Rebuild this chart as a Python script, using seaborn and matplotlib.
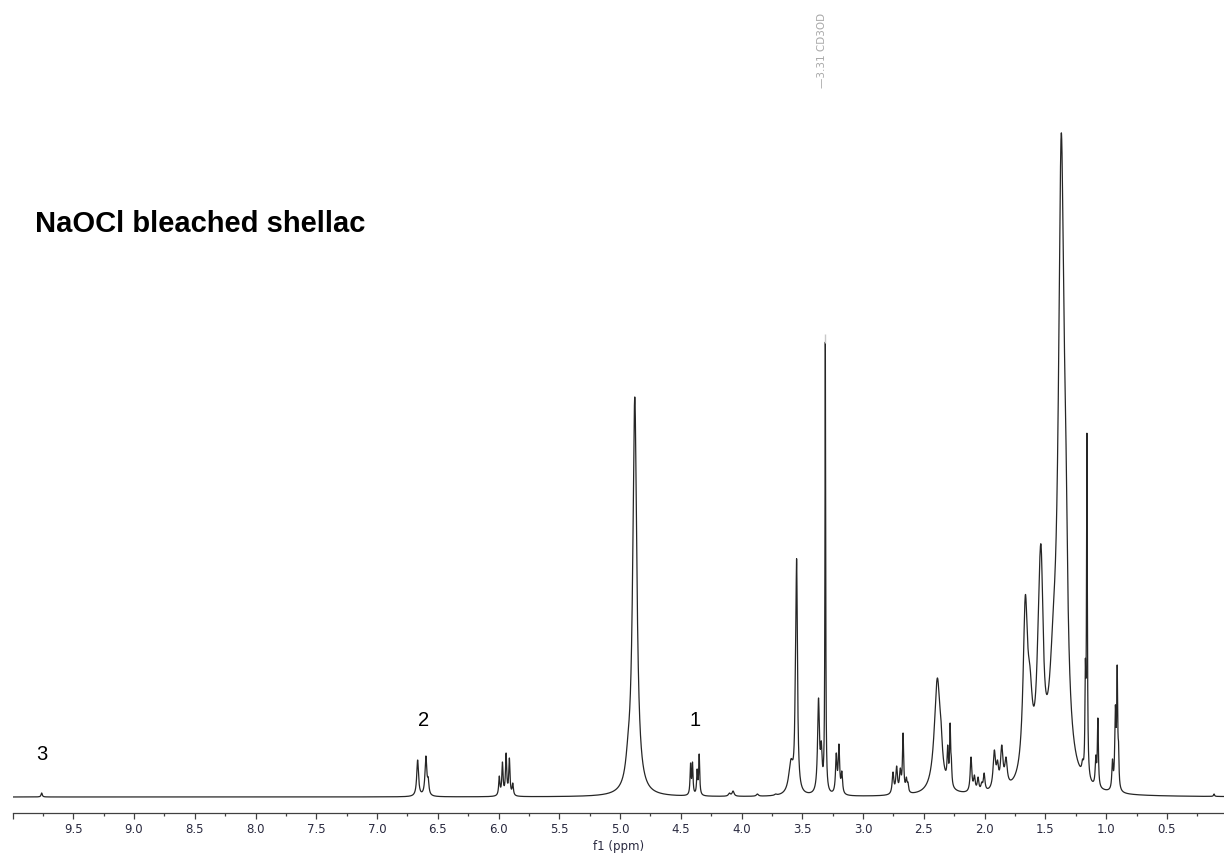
import numpy as np
import pandas as pd
import matplotlib
matplotlib.use("Agg")
import matplotlib.pyplot as plt
from matplotlib.ticker import FixedLocator, FixedFormatter
import seaborn as sns

# 1H NMR of NaOCl bleached shellac in CD3OD.
# Peak list: chemical shift (ppm), observed apex height (arbitrary units), half width (ppm)
peak_ppm = [9.76,
            6.666, 6.598, 6.579,
            5.994, 5.968, 5.938, 5.911, 5.883,
            4.934, 4.879,
            4.420, 4.404, 4.366, 4.349,
            4.10, 4.07, 3.87, 3.72,
            3.594, 3.557, 3.547,
            3.367, 3.344, 3.311,
            3.221, 3.199, 3.175,
            2.754, 2.724, 2.694, 2.671, 2.644, 2.631,
            2.389, 2.359,
            2.304, 2.284, 2.274,
            2.112, 2.084, 2.054, 2.024, 2.004,
            1.920, 1.894, 1.859, 1.824,
            1.665, 1.627, 1.550, 1.534, 1.434, 1.369, 1.333,
            1.194, 1.171, 1.158,
            1.085, 1.068,
            0.948, 0.924, 0.909, 0.898,
            0.112]
peak_height = [4,
               37, 41, 20,
               21, 35, 44, 39, 14,
               64, 400,
               34, 35, 28, 43,
               4, 6, 3, 3,
               38, 140, 238,
               99, 56, 455,
               44, 53, 26,
               25, 31, 29, 64, 20, 15,
               119, 77,
               52, 74, 40,
               40, 22, 20, 15, 24,
               47, 37, 52, 40,
               202, 131, 222, 249, 190, 664, 380,
               38, 138, 364,
               42, 79,
               38, 92, 132, 56,
               3]
peak_width = [0.006,
              0.009, 0.009, 0.007,
              0.006, 0.006, 0.006, 0.006, 0.006,
              0.024, 0.020,
              0.005, 0.005, 0.005, 0.005,
              0.010, 0.010, 0.010, 0.010,
              0.022, 0.006, 0.008,
              0.009, 0.008, 0.0035,
              0.007, 0.007, 0.007,
              0.008, 0.008, 0.008, 0.006, 0.007, 0.006,
              0.030, 0.012,
              0.006, 0.005, 0.005,
              0.008, 0.008, 0.008, 0.008, 0.008,
              0.012, 0.010, 0.012, 0.012,
              0.022, 0.025, 0.025, 0.020, 0.040, 0.028, 0.018,
              0.008, 0.004, 0.004,
              0.006, 0.005,
              0.006, 0.006, 0.005, 0.004,
              0.005]

solvent_ppm = 3.311
solvent_label = "3.31 CD3OD"
peak_tags = ["3", "2", "1"]
peak_tag_ppm = [9.76, 6.62, 4.38]

major_ticks = [10.0, 9.5, 9.0, 8.5, 8.0, 7.5, 7.0, 6.5, 6.0, 5.5, 5.0,
               4.5, 4.0, 3.5, 3.0, 2.5, 2.0, 1.5, 1.0, 0.5]
major_labels = ["", "9.5", "9.0", "8.5", "8.0", "7.5", "7.0", "6.5", "6.0", "5.5", "5.0",
                "4.5", "4.0", "3.5", "3.0", "2.5", "2.0", "1.5", "1.0", "0.5"]
minor_ticks = [9.75, 9.25, 8.75, 8.25, 7.75, 7.25, 6.75, 6.25, 5.75, 5.25,
               4.75, 4.25, 3.75, 3.25, 2.75, 2.25, 1.75, 1.25, 0.75, 0.25]

# --- build the lineshape (sum of Lorentzians whose apexes reach the listed heights)
c = np.array(peak_ppm)
h = np.array(peak_height, dtype=float)
w = np.array(peak_width)


def lorentz(x, x0, hw):
    return 1.0 / (1.0 + ((x - x0) / hw) ** 2)


M = lorentz(c[:, None], c[None, :], w[None, :])
amp = h.copy()
for _ in range(400):
    amp *= h / (M @ amp)

x = np.linspace(10.0, 0.03, 40000)
y = (amp[None, :] * lorentz(x[:, None], c[None, :], w[None, :])).sum(axis=1)
spec = pd.DataFrame({"ppm": x, "intensity": y})

# --- figure
sns.set_style("ticks")
plt.rcParams["font.family"] = ["DejaVu Sans"]

W, H = 1224, 856
fig = plt.figure(figsize=(W / 100, H / 100), dpi=100)
ax_left, ax_bottom_px = 12.5, 812.7
ax = fig.add_axes([ax_left / W, (H - ax_bottom_px) / H, (W - ax_left) / W, ax_bottom_px / H])

sns.lineplot(data=spec, x="ppm", y="intensity", ax=ax, estimator=None, sort=False,
             color="#262626", linewidth=0.9)

ax.set_xlim(10.0, 0.03)
ax.set_ylim(-15.7, 797)

for s in ["left", "right", "top"]:
    ax.spines[s].set_visible(False)
ax.spines["bottom"].set_color("#404040")
ax.spines["bottom"].set_linewidth(0.9)

ax.set_yticks([])
ax.set_ylabel("")
ax.xaxis.set_major_locator(FixedLocator(major_ticks))
ax.xaxis.set_major_formatter(FixedFormatter(major_labels))
ax.xaxis.set_minor_locator(FixedLocator(minor_ticks))
ax.tick_params(axis="x", which="major", length=4.5, width=0.9, color="#404040",
               labelsize=8.5, labelcolor="#2a2a40", pad=3)
ax.tick_params(axis="x", which="minor", length=2.5, width=0.9, color="#404040")
ax.set_xlabel("f1 (ppm)", fontsize=8.5, color="#2a2a40", labelpad=2.5)

# solvent reference mark
near = np.abs(x - solvent_ppm) < 0.01
top = y[near].max()
ax.vlines(solvent_ppm, top - 1, top + 8, color="#c8c8c8", linewidth=1.0)
ax.text(solvent_ppm + 0.025, 709, "\u2014" + solvent_label, rotation=90, ha="center",
        va="bottom", fontsize=7.5, color="#a8a8a8")

# numbered signals
tag_y = [42, 77, 77]
for t, p, ty in zip(peak_tags, peak_tag_ppm, tag_y):
    ax.text(p, ty, t, ha="center", va="center", fontsize=14.5,
            family=["Liberation Sans", "DejaVu Sans"], color="black")

fig.text(35 / W, 1 - 224 / H, "NaOCl bleached shellac", ha="left", va="center",
         fontsize=21, fontweight="bold", color="black",
         family=["Liberation Sans", "DejaVu Sans"])

fig.savefig("out.png", dpi=100)
